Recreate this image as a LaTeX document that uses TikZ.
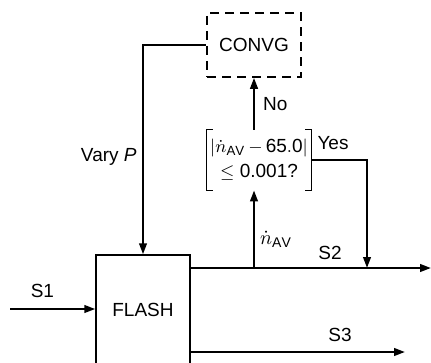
\documentclass[tikz,border=0pt]{standalone}
\usepackage{fontspec}
\setmainfont{Liberation Sans}
\usetikzlibrary{arrows.meta}

\begin{document}
\begin{tikzpicture}[
  x=0.5pt, y=-0.5pt,
  font=\fontsize{9.5}{11.5}\selectfont,
  unit/.style={draw, line width=0.7pt, minimum width=47pt, minimum height=54.5pt,
               inner sep=0pt},
  ctrl/.style={draw, line width=0.8pt, dash pattern=on 4.5pt off 3pt,
               minimum width=47pt, minimum height=32pt, inner sep=0pt},
  test/.style={minimum width=52pt, minimum height=30pt, inner sep=0pt,
               align=center, font=\fontsize{9.5}{12.5}\selectfont},
  lab/.style={inner sep=1pt},
  flow/.style={line width=1.1pt},
  >={Triangle[length=5.5pt,width=3.8pt]}
]
\useasboundingbox (0,0) rectangle (431,362);
\clip (0,0) rectangle (431,362);

% ── units ────────────────────────────────────────────────────────────
\node[unit] (flash) at (143,309.5) {FLASH};
\node[ctrl] (convg) at (254,45)    {CONVG};
\node[test] (check) at (259,160)
     {$\left|\dot{n}_{\mathrm{AV}}\,{-}\,\mathrm{65.0}\right|$\\$\leq$ 0.001?};

% brackets round the test
\draw[line width=0.8pt] ([xshift=3pt]check.north west) -- (check.north west)
      -- (check.south west) -- ([xshift=3pt]check.south west);
\draw[line width=0.8pt] ([xshift=-3pt]check.north east) -- (check.north east)
      -- (check.south east) -- ([xshift=-3pt]check.south east);

% ── stream ends ──────────────────────────────────────────────────────
\coordinate (s1)   at (10,309);
\coordinate (s2)   at (431,268);
\coordinate (s3)   at (405,352);
\coordinate (tap)  at (254,268);
\coordinate (join) at (367,268);

% ── streams ──────────────────────────────────────────────────────────
\draw[flow, ->] (s1) -- node[lab, pos=0.38, above=4pt] {S1} (flash.west |- s1);
\draw[flow, ->] (flash.east |- s2) -- (s2);
\draw[flow, ->] (flash.east |- s3) -- (s3);
\node[lab] (s2lab) at (330,253) {S2};
\node[lab] (s3lab) at (340,335) {S3};

% ── control loop ─────────────────────────────────────────────────────
\draw[flow, ->] (tap) -- (tap |- check.south);
\node[lab, font=\fontsize{10}{12}\selectfont] (nlab) at (276,239)
     {$\dot{n}_{\mathrm{AV}}$};
\draw[flow, ->] (check.north -| convg) -- node[lab, right=3pt] {No} (convg.south);
\draw[flow, ->] (check.east) -| (join);
\node[lab] (yes) at (333,143) {Yes};
\draw[flow, ->] (convg.west) -| (flash.north);
\node[lab, anchor=east] (vary) at (139,157) {Vary \textit{P}};

\end{tikzpicture}
\end{document}
